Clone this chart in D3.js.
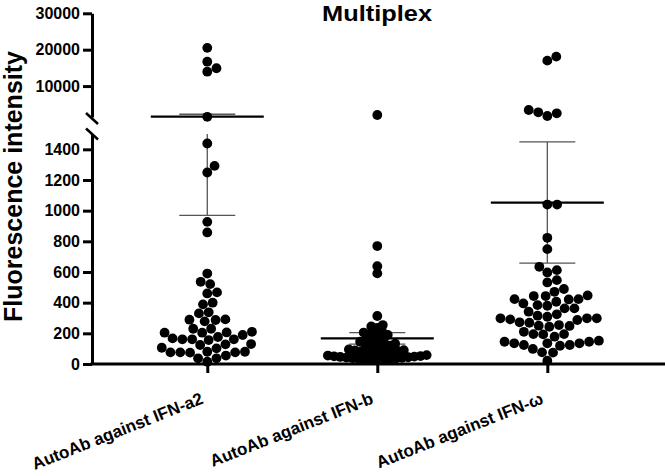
<!DOCTYPE html>
<html><head><meta charset="utf-8">
<script src="https://cdn.jsdelivr.net/npm/d3@7"></script>
<style>
body{margin:0;background:#fff}
svg{display:block}
text{font-family:"Liberation Sans",Arial,Helvetica,sans-serif;font-weight:bold;fill:#000}
</style>
</head><body>
<svg id="chart" width="665" height="476"></svg>
<script>
// ---------------- data ----------------
const categories = ["AutoAb against IFN-a2", "AutoAb against IFN-b", "AutoAb against IFN-ω"];
const valuesA2 = [20500, 16700, 14900, 13960, 1550,
  1438, 1292, 1249, 927, 858,
  590, 536, 521, 467, 460, 400, 389, 337, 330, 291, 289, 287, 278, 230, 230,
  210, 206, 204, 204, 189, 176, 167, 161, 161, 161, 156, 130, 128, 124, 106, 102,
  80, 80, 76, 76, 76, 74, 55, 37, 37, 15];
const valuesB = [2050, 769, 638, 591, 313, 254,
  245, 235, 210, 205, 198, 190, 185,
  170, 160, 150, 145, 140, 132, 125, 120,
  110, 105, 100, 95, 90, 88, 85, 80, 76, 72, 68, 64,
  60, 58, 55, 52, 50, 48, 46, 44, 42, 40, 38, 36, 34, 32, 30, 28, 26, 22];
const valuesW = [18090, 16990, 3426, 2793, 2518, 1775,
  1040, 1040, 823, 749, 634, 612, 597, 547, 532, 489, 471, 447, 443, 443,
  423, 423, 421, 406, 395, 384, 380, 363, 363, 341, 324, 315,
  308, 298, 298, 298, 291, 287, 272, 269, 254, 250, 248, 243,
  210, 195, 195, 193, 178, 152, 145, 145, 135, 135, 135, 124, 124, 119, 98, 76, 74, 22];
const meanValues = [1612, 167, 1053];
const semValues = [643, 37, 395];
const lowerTicks = [0, 200, 400, 600, 800, 1000, 1200, 1400];
const upperTicks = [10000, 20000, 30000];
const breakValue = 1500;
const chartTitle = "Multiplex";
const yTitle = "Fluorescence intensity";

// ---------------- layout ----------------
const svg = d3.select("#chart");
const axisX = 92, baseY = 364;
const yLow = d3.scaleLinear().domain([0, breakValue]).range([baseY, 134]);
const yUp = d3.scaleLinear().domain([breakValue, 30000]).range([117, 13.3]);
const yPix = v => v <= breakValue ? yLow(v) : yUp(v);
const x = d3.scalePoint().domain(categories).range([axisX, 662.6]).padding(0.678);

const R = 4.9, MAXHALF = 52;
// packing distance per group (the crowded IFN-b group overlaps, as in the original)
const packing = [9.8, 6.2, 9.8];

function swarm(values, cx, d) {
  const pts = values.map(v => ({ v, y: yPix(v) })).sort((a, b) => a.v - b.v);
  const placed = [];
  for (const p of pts) {
    const near = placed.filter(q => Math.abs(q.y - p.y) < d);
    const cands = [0];
    near.forEach(q => {
      const dx = Math.sqrt(d * d - (q.y - p.y) ** 2);
      cands.push(q.dx + dx + 0.01, q.dx - dx - 0.01);
    });
    const ok = cands.filter(c => Math.abs(c) <= MAXHALF &&
      near.every(q => (q.dx - c) ** 2 + (q.y - p.y) ** 2 >= d * d - 0.05));
    let best = 0;
    if (ok.length) {
      best = ok.reduce((a, b) => Math.abs(b) < Math.abs(a) - 1e-6 ? b : a);
    } else {
      let bestScore = -1;
      for (let c = -MAXHALF; c <= MAXHALF; c += 0.5) {
        const s = d3.min(near, q => Math.hypot(q.dx - c, q.y - p.y));
        if (s > bestScore + 1e-6 || (Math.abs(s - bestScore) < 1e-6 && Math.abs(c) < Math.abs(best))) {
          bestScore = s; best = c;
        }
      }
    }
    p.dx = best;
    placed.push(p);
  }
  return placed.map(p => ({ v: p.v, y: p.y, x: cx + p.dx }));
}

// ---------------- error bars & means (behind dots) ----------------
const groups = [valuesA2, valuesB, valuesW];
const errG = svg.append("g");
categories.forEach((c, i) => {
  const cx = x(c);
  const m = meanValues[i], lo = m - semValues[i], hi = m + semValues[i];
  const col = "#555";
  const segs = [];
  if (lo < breakValue) segs.push([yLow(lo), yLow(Math.min(hi, breakValue))]);
  if (hi > breakValue) segs.push([yUp(Math.max(lo, breakValue)), yUp(hi)]);
  segs.forEach(s => errG.append("line").attr("x1", cx).attr("x2", cx)
    .attr("y1", s[0]).attr("y2", s[1]).attr("stroke", col).attr("stroke-width", 1.3));
  [lo, hi].forEach(v => errG.append("line").attr("x1", cx - 28).attr("x2", cx + 28)
    .attr("y1", yPix(v)).attr("y2", yPix(v)).attr("stroke", col).attr("stroke-width", 1.3));
  errG.append("line").attr("x1", cx - 56.5).attr("x2", cx + 56.5)
    .attr("y1", yPix(m)).attr("y2", yPix(m)).attr("stroke", "#000").attr("stroke-width", 2.2);
});

// ---------------- dots ----------------
categories.forEach((c, i) => {
  svg.append("g").selectAll("circle").data(swarm(groups[i], x(c), packing[i])).join("circle")
    .attr("cx", d => d.x).attr("cy", d => d.y).attr("r", R).attr("fill", "#000");
});

// ---------------- axes ----------------
function styleAxis(g) {
  g.selectAll(".domain").attr("stroke", "#000").attr("stroke-width", 3);
  g.selectAll(".tick line").attr("stroke", "#000").attr("stroke-width", 3);
  g.selectAll(".tick text").style("font-size", "16px").style("font-weight", "bold")
    .style("font-family", '"Liberation Sans", Arial, sans-serif').attr("fill", "#000");
}
const gLow = svg.append("g").attr("transform", `translate(${axisX},0)`)
  .call(d3.axisLeft(yLow).tickValues(lowerTicks).tickSize(9).tickSizeOuter(0).tickPadding(3).tickFormat(d3.format("d")));
styleAxis(gLow);
const gUp = svg.append("g").attr("transform", `translate(${axisX},0)`)
  .call(d3.axisLeft(yUp).tickValues(upperTicks).tickSize(9).tickSizeOuter(0).tickPadding(3).tickFormat(d3.format("d")));
styleAxis(gUp);

// break marks
[yUp(breakValue) + 1.5, yLow(breakValue)].forEach(yy => {
  svg.append("line").attr("x1", axisX - 6).attr("y1", yy - 5.5).attr("x2", axisX + 6).attr("y2", yy + 5.5)
    .attr("stroke", "#000").attr("stroke-width", 2.5);
});

// x axis
const gX = svg.append("g").attr("transform", `translate(0,${baseY})`)
  .call(d3.axisBottom(x).tickSize(9).tickSizeOuter(0).tickFormat(""));
gX.select(".domain").remove();
gX.selectAll(".tick line").attr("stroke", "#000").attr("stroke-width", 3);
svg.append("line").attr("x1", axisX - 1.5).attr("x2", 665).attr("y1", baseY).attr("y2", baseY)
  .attr("stroke", "#000").attr("stroke-width", 3);

// x labels
svg.append("g").selectAll("text").data(categories).join("text")
  .attr("transform", d => `translate(${x(d) - 3},403) rotate(-21.6)`)
  .attr("text-anchor", "end").style("font-size", "17px").text(d => d);

// titles
svg.append("text").attr("x", 377).attr("y", 21).attr("text-anchor", "middle")
  .style("font-size", "22px").attr("textLength", 110).attr("lengthAdjust", "spacingAndGlyphs")
  .text(chartTitle);
svg.append("text").attr("transform", "translate(21.5,186.5) rotate(-90)")
  .attr("text-anchor", "middle").style("font-size", "25px").text(yTitle);
</script>
</body></html>
